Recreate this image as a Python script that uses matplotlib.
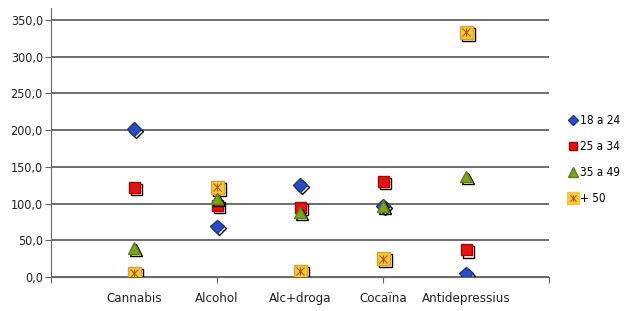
import numpy as np
import matplotlib.pyplot as plt
import matplotlib.patheffects as pe
from matplotlib.lines import Line2D

categories = ['Cannabis', 'Alcohol', 'Alc+droga', 'Cocaïna', 'Antidepressius']
series = ['18 a 24', '25 a 34', '35 a 49', '+ 50']
v18_24 = [201, 69, 125, 97, 5]
v25_34 = [122, 98, 95, 130, 37]
v35_49 = [40, 107, 88, 97, 137]
v50 = [5, 122, 8, 25, 333]

plt.rcParams['font.family'] = ['DejaVu Sans']
plt.rcParams['font.stretch'] = 'condensed'

fig = plt.figure(figsize=(6.24, 3.11), dpi=100)
ax = fig.add_axes([0.082, 0.109, 0.798, 0.865])

x = np.arange(1, len(categories) + 1)
shadow = [pe.SimpleLineShadow(offset=(1.5, -1.5), shadow_color='black', alpha=1.0), pe.Normal()]

ax.plot(x, v18_24, linestyle='none', marker='D', ms=7, mfc='#2a4dbf', mec='#1c3590',
        path_effects=shadow, zorder=5)
ax.plot(x, v25_34, linestyle='none', marker='s', ms=8, mfc='#e31414', mec='#b00000',
        path_effects=shadow, zorder=4)
ax.plot(x, v35_49, linestyle='none', marker='^', ms=8.5, mfc='#79a61e', mec='#5a8010',
        path_effects=shadow, zorder=6)
ax.plot(x, v50, linestyle='none', marker='s', ms=9.5, mfc='#f5c842', mec='#e0a020',
        path_effects=shadow, zorder=3)
ax.plot(x, v50, linestyle='none', marker='x', ms=6, mew=0.8, color='#b05a00', zorder=3.5)
ax.plot(x, v50, linestyle='none', marker='|', ms=6, mew=0.8, color='#b05a00', zorder=3.5)

ax.set_xlim(0, 6)
ax.set_ylim(0, 366)
ax.set_yticks(np.arange(0, 351, 50))
ax.set_yticklabels(['{:.1f}'.format(v).replace('.', ',') for v in np.arange(0, 351, 50)])
ax.set_xticks([0, 2, 4, 6])
ax.set_xticklabels([])
for xi, name in zip(x, categories):
    ax.text(xi, -20, name, ha='center', va='top', fontsize=9.5, color='#222222')

ax.grid(axis='y', color='#555555', linewidth=1.2)
ax.set_axisbelow(True)
for s in ['top', 'right']:
    ax.spines[s].set_visible(False)
ax.spines['left'].set_color('#666666')
ax.spines['bottom'].set_color('#666666')
ax.tick_params(axis='y', length=4, labelsize=9, colors='#666666', labelcolor='#222222', pad=2)
ax.tick_params(axis='x', length=4, colors='#666666')

# legend
handles = [
    Line2D([], [], linestyle='none', marker='D', ms=5, mfc='#2a4dbf', mec='#1c3590'),
    Line2D([], [], linestyle='none', marker='s', ms=6, mfc='#e31414', mec='#b00000'),
    Line2D([], [], linestyle='none', marker='^', ms=7, mfc='#79a61e', mec='#5a8010'),
    (Line2D([], [], linestyle='none', marker='s', ms=8, mfc='#f5c842', mec='#f5c842'),
     Line2D([], [], linestyle='none', marker='x', ms=5, mew=0.8, color='#b05a00'),
     Line2D([], [], linestyle='none', marker='|', ms=5, mew=0.8, color='#b05a00')),
]
fig.legend(handles, series, loc='center left', bbox_to_anchor=(0.912, 0.486), frameon=False,
           fontsize=8.5, handlelength=0.7, handletextpad=0.2, labelspacing=1.1,
           borderaxespad=0, borderpad=0)

fig.savefig('out.png', dpi=100)
